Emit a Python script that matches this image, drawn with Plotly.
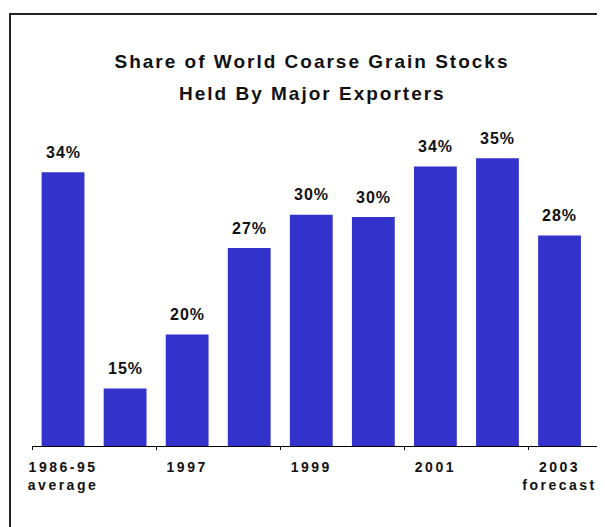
import plotly.graph_objects as go

# ---- data ----
categories = ["1986-95 average", "1996", "1997", "1998", "1999", "2000", "2001", "2002", "2003 forecast"]
values = [33.8, 15.0, 19.7, 27.2, 30.1, 29.9, 34.3, 35.0, 28.3]
value_labels = ["34%", "15%", "20%", "27%", "30%", "30%", "34%", "35%", "28%"]
tick_cats = ["1986-95 average", "1997", "1999", "2001", "2003 forecast"]
tick_texts = ["1986-95<br>average", "1997", "1999", "2001", "2003<br>forecast"]
boundary_ticks = [-0.5, 1.5, 3.5, 5.5, 7.5]
title_line1 = "Share of World Coarse Grain Stocks"
title_line2 = "Held By Major Exporters"

FONT = "Liberation Sans, Arial, sans-serif"
BAR_COLOR = "#3333CC"
OFF = 8  # page body margin offset
W, H = 605, 527
ML, MR, MT, MB = 32 - OFF, 15, 110 - OFF, 89
XR = [-0.5, 8.62]
YR = [10, 39.2]


def spaced(t, px):
    return '<span style="letter-spacing:%spx">%s</span>' % (px, t)


fig = go.Figure()
fig.add_trace(go.Bar(
    x=categories, y=values, marker=dict(color=BAR_COLOR, line=dict(width=0)),
    hoverinfo="skip", showlegend=False,
))
# invisible trace on overlay axis to anchor boundary ticks
fig.add_trace(go.Scatter(x=[XR[0]], y=[YR[0]], xaxis="x2", mode="markers",
                         marker=dict(opacity=0), hoverinfo="skip", showlegend=False))

for i, (v, lab) in enumerate(zip(values, value_labels)):
    fig.add_annotation(x=i, y=v, text=spaced(lab, 1), showarrow=False,
                       yshift=20, yanchor="middle",
                       font=dict(family=FONT, size=16, color="#111", weight="bold"))

# plot-area geometry in pixels for paper conversions (figure coords)
pw = W - ML - MR
ph = H - MT - MB


def px_to_paper_x(px):
    return (px - OFF - ML) / pw


def px_to_paper_y(py):
    return (H - MB - (py - OFF)) / ph


fig.add_annotation(xref="paper", yref="paper", x=px_to_paper_x(312), y=px_to_paper_y(94),
                   text=spaced(title_line2, 2), showarrow=False, yanchor="middle",
                   font=dict(family=FONT, size=19, color="#111", weight="bold"))

# outer frame (right/bottom edges beyond the window)
fig.add_shape(type="rect", xref="paper", yref="paper",
              x0=px_to_paper_x(10), x1=px_to_paper_x(640),
              y0=px_to_paper_y(560), y1=px_to_paper_y(14),
              line=dict(color="#222", width=2), fillcolor="rgba(0,0,0,0)")

fig.update_layout(
    width=W, height=H,
    margin=dict(l=ML, r=MR, t=MT, b=MB),
    paper_bgcolor="white", plot_bgcolor="white",
    bargap=0.31,
    title=dict(text=spaced(title_line1, 2), xref="container", yref="container",
               x=(312 - OFF) / W, y=1 - (61 - OFF) / H, xanchor="center", yanchor="middle",
               font=dict(family=FONT, size=19, color="#111", weight="bold")),
    xaxis=dict(type="category", range=XR, tickmode="array", tickvals=tick_cats,
               ticktext=[spaced(t, 2.5) for t in tick_texts], ticks="",
               showline=True, linecolor="black", linewidth=1, showgrid=False,
               zeroline=False, ticklabelstandoff=8,
               tickfont=dict(family=FONT, size=14, color="#111", weight="bold")),
    xaxis2=dict(overlaying="x", anchor="y", side="bottom", range=XR,
                tickmode="array", tickvals=boundary_ticks, ticktext=["" for _ in boundary_ticks],
                ticks="outside", ticklen=3, tickcolor="black", tickwidth=1,
                showline=False, showgrid=False, zeroline=False),
    yaxis=dict(range=YR, visible=False, showgrid=False, zeroline=False),
)

fig.write_html("out.html")
